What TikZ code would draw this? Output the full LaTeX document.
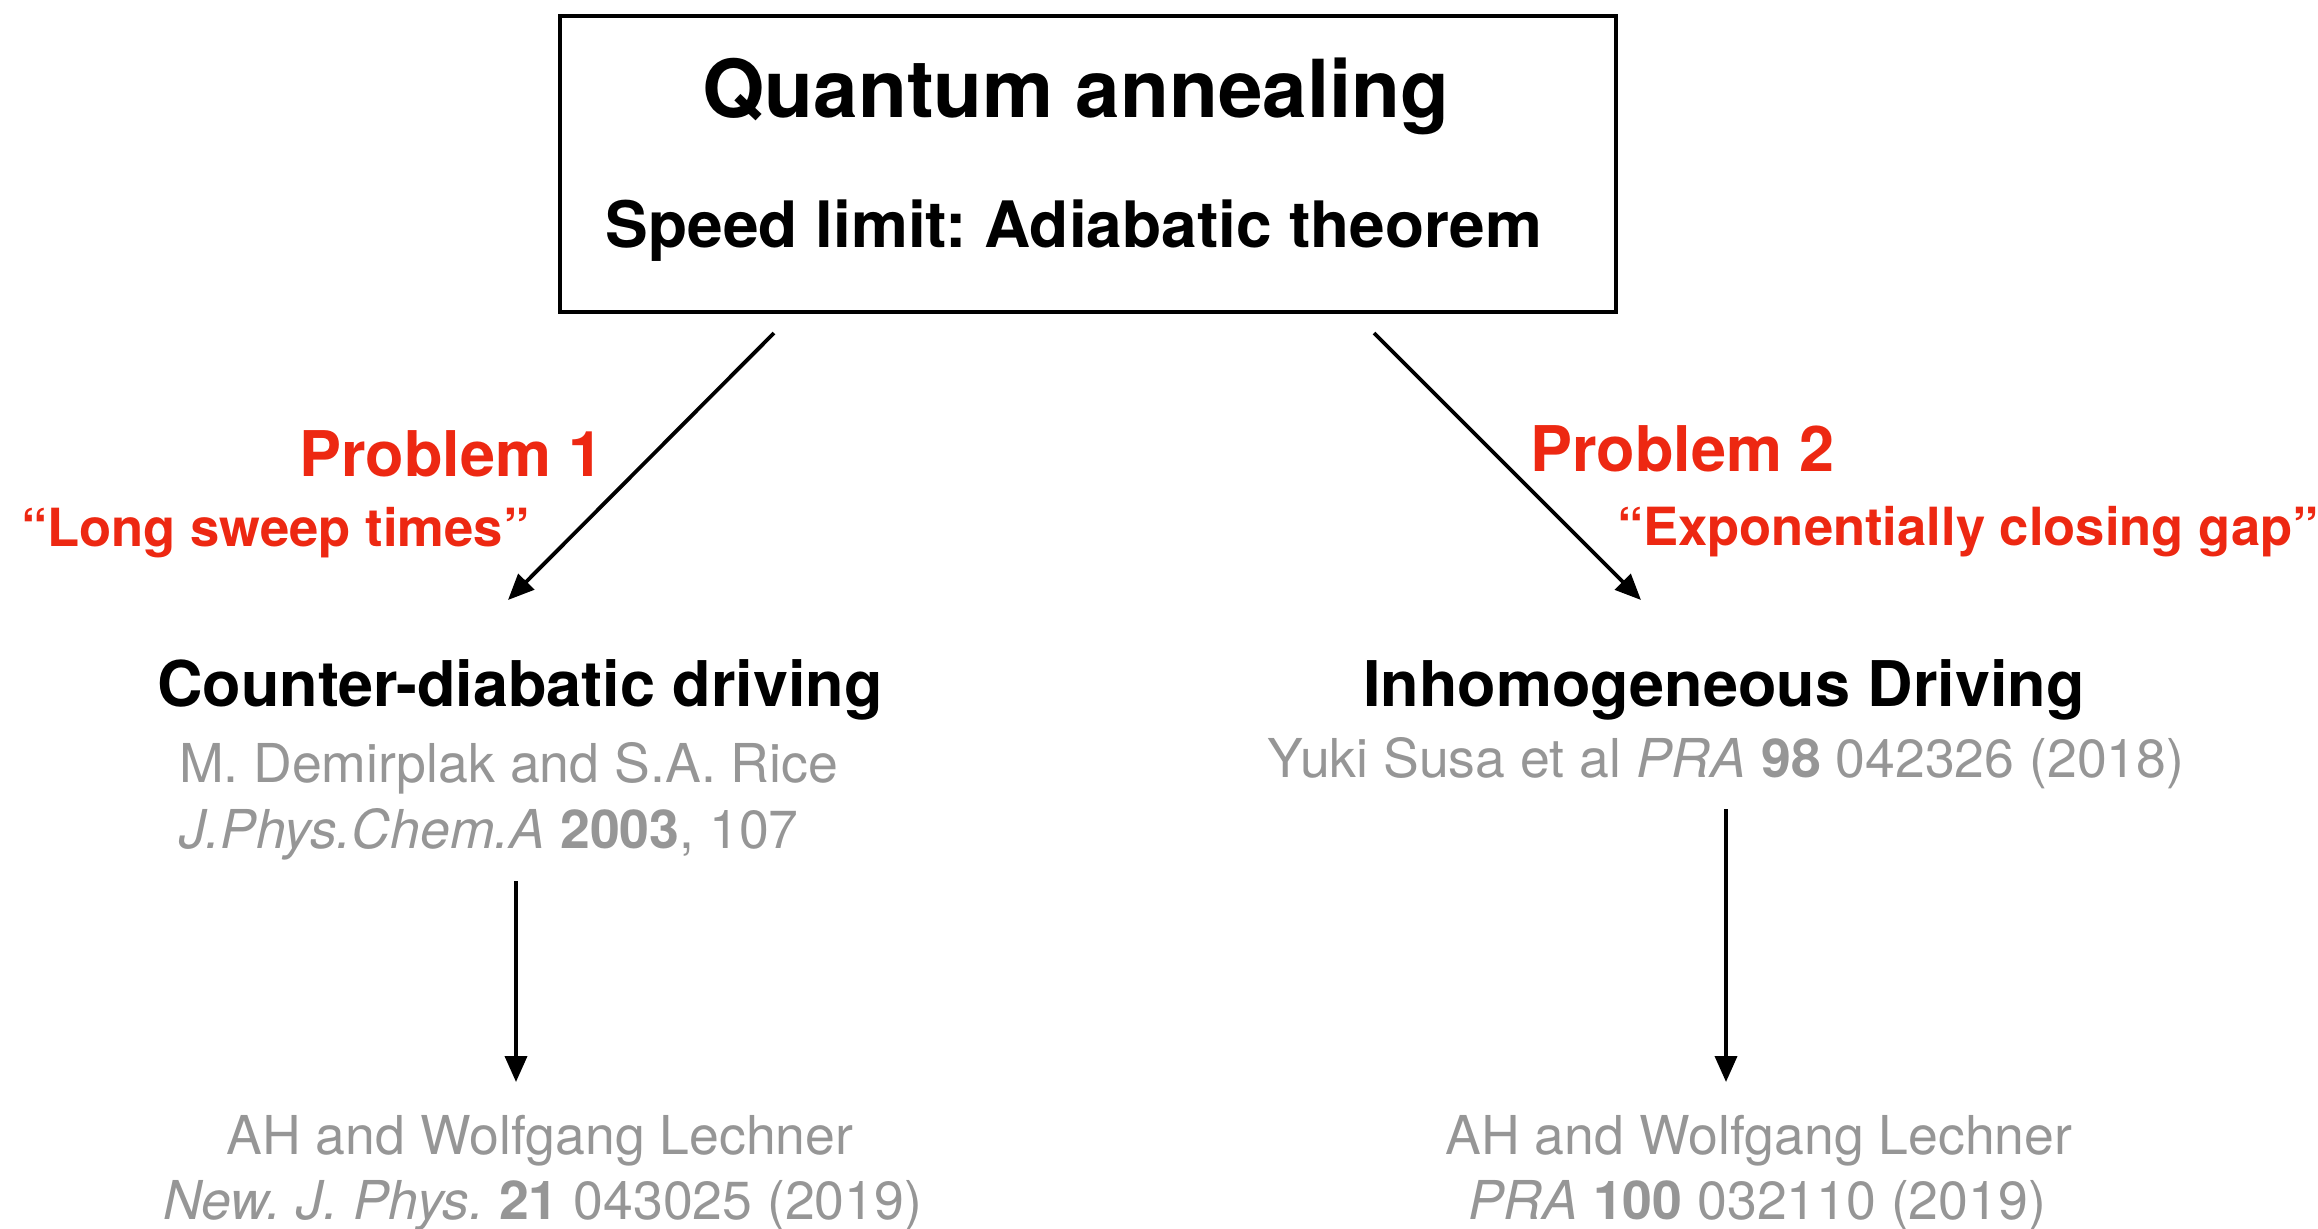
\documentclass[tikz,border=0pt]{standalone}
\usepackage{fontspec}
\setmainfont{TeX Gyre Heros}
\usetikzlibrary{arrows.meta}
\definecolor{pred}{RGB}{237,40,18}
\definecolor{pgray}{RGB}{150,150,150}
\frenchspacing
\begin{document}
\begin{tikzpicture}[x=0.5pt,y=-0.5pt,
  txt/.style={inner sep=0pt, outer sep=0pt},
  ttl/.style={txt, font=\fontsize{40}{48}\selectfont\bfseries},
  subttl/.style={txt, font=\fontsize{32}{38}\selectfont\bfseries},
  prob/.style={txt, text=pred, font=\fontsize{31.5}{38}\selectfont\bfseries},
  quot/.style={txt, text=pred, font=\fontsize{26.3}{32}\selectfont\bfseries},
  head/.style={txt, font=\fontsize{31.5}{37}\selectfont\bfseries},
  ref/.style={txt, text=pgray, font=\fontsize{26.8}{32}\selectfont},
  conn/.style={line width=1.9pt, -{Triangle[length=13pt,width=11pt]}}
]
\useasboundingbox (0,0) rectangle (2318,1228);

% top box
\node[draw, line width=2.2pt, minimum width=528pt, minimum height=148pt, inner sep=0pt] (qa) at (1088,164) {};
\node[ttl, anchor=base] (qat) at (1076,117) {Quantum annealing};
\node[subttl, anchor=base] (qas) at (1074,247) {Speed limit: Adiabatic theorem};

% problem labels
\node[prob, anchor=base east] (p1) at (604,476) {Problem 1};
\node[quot, anchor=base west] (q1) at (21,546) {“Long sweep times”};
\node[prob, anchor=base west] (p2) at (1530,471) {Problem 2};
\node[quot, anchor=base west] (q2) at (1617,545) {“Exponentially closing gap”};

% left branch
\node[head, anchor=base] (cd) at (520,706) {Counter-diabatic driving};
\node[ref, anchor=base west] (cd1) at (179,782) {M. Demirplak and S.A. Rice};
\node[ref, anchor=base west] (cd2) at (179,848) {\textit{J.Phys.Chem.A} \textbf{2003}, 107};
\node[ref, anchor=base] (l1) at (540,1154) {AH and Wolfgang Lechner};
\node[ref, anchor=base] (l2) at (543,1219) {\textit{New. J. Phys.} \textbf{21} 043025 (2019)};

% right branch
\node[head, anchor=base] (id) at (1724,706) {Inhomogeneous Driving};
\node[ref, anchor=base] (id1) at (1726,777) {Yuki Susa et al \textit{PRA} \textbf{98} 042326 (2018)};
\node[ref, anchor=base] (r1) at (1759,1154) {AH and Wolfgang Lechner};
\node[ref, anchor=base] (r2) at (1757,1219) {\textit{PRA} \textbf{100} 032110 (2019)};

% connector end points
\coordinate (a1s) at (774,333);
\coordinate (a1e) at (508,600);
\coordinate (a2s) at (1374,333);
\coordinate (a2e) at (1641,600);
\coordinate (a3s) at (516,881);
\coordinate (a3e) at (516,1082);
\coordinate (a4s) at (1726,809);
\coordinate (a4e) at (1726,1082);

\draw[conn] (a1s) -- (a1e);
\draw[conn] (a2s) -- (a2e);
\draw[conn] (a3s) -- (a3e);
\draw[conn] (a4s) -- (a4e);
\end{tikzpicture}
\end{document}
